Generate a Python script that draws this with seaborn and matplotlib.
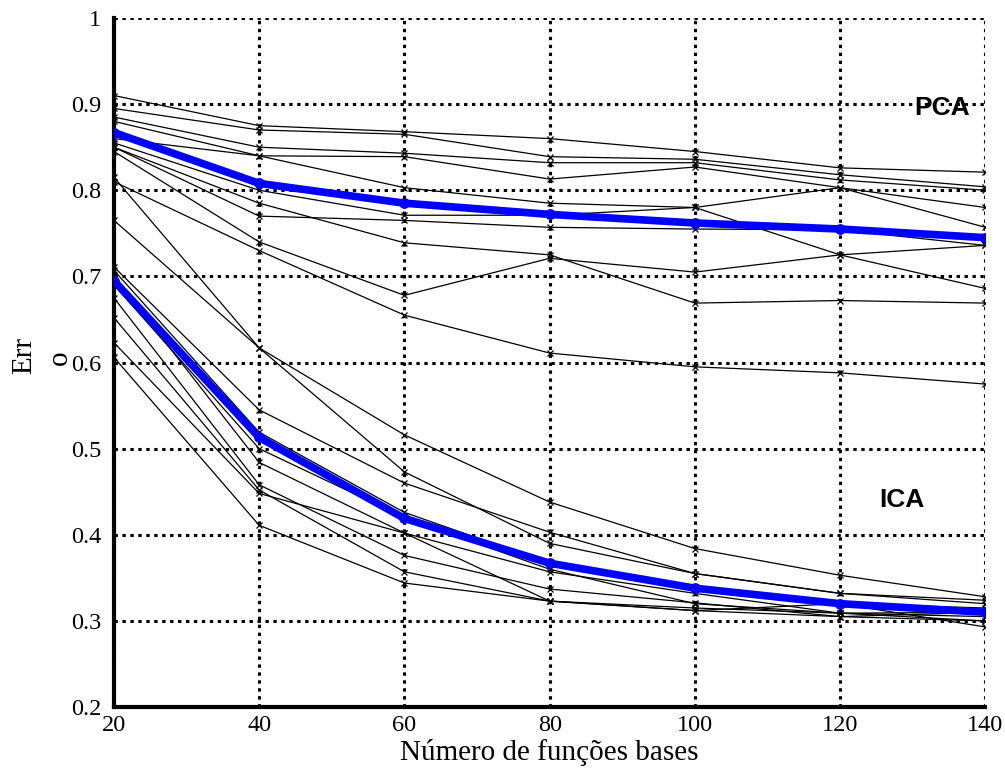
import matplotlib
matplotlib.use('Agg')
import matplotlib.pyplot as plt
import seaborn as sns
import pandas as pd

# number of basis functions
n_bases = [20, 40, 60, 80, 100, 120, 140]

# PCA runs
pca_runs = [
    [0.910, 0.875, 0.868, 0.860, 0.845, 0.826, 0.821],
    [0.895, 0.870, 0.865, 0.839, 0.836, 0.818, 0.804],
    [0.885, 0.850, 0.843, 0.832, 0.832, 0.812, 0.800],
    [0.880, 0.840, 0.839, 0.813, 0.827, 0.803, 0.757],
    [0.860, 0.840, 0.803, 0.785, 0.780, 0.803, 0.780],
    [0.855, 0.800, 0.771, 0.771, 0.780, 0.725, 0.686],
    [0.850, 0.770, 0.765, 0.757, 0.755, 0.754, 0.736],
    [0.845, 0.740, 0.678, 0.721, 0.705, 0.725, 0.736],
    [0.810, 0.730, 0.655, 0.611, 0.595, 0.588, 0.575],
    [0.850, 0.785, 0.739, 0.725, 0.669, 0.672, 0.669],
]
pca_mean = [0.867, 0.808, 0.785, 0.772, 0.762, 0.755, 0.745]

# ICA runs
ica_runs = [
    [0.815, 0.617, 0.516, 0.438, 0.384, 0.353, 0.328],
    [0.765, 0.617, 0.473, 0.390, 0.355, 0.332, 0.324],
    [0.711, 0.545, 0.460, 0.403, 0.355, 0.332, 0.320],
    [0.707, 0.519, 0.426, 0.367, 0.338, 0.320, 0.315],
    [0.700, 0.484, 0.402, 0.357, 0.332, 0.309, 0.310],
    [0.675, 0.458, 0.376, 0.337, 0.321, 0.305, 0.310],
    [0.652, 0.452, 0.357, 0.323, 0.315, 0.309, 0.305],
    [0.623, 0.448, 0.402, 0.323, 0.312, 0.320, 0.293],
    [0.606, 0.411, 0.344, 0.323, 0.312, 0.305, 0.300],
    [0.690, 0.500, 0.420, 0.360, 0.320, 0.309, 0.300],
]
ica_mean = [0.695, 0.513, 0.419, 0.367, 0.338, 0.320, 0.310]

y_ticks = [0.2, 0.3, 0.4, 0.5, 0.6, 0.7, 0.8, 0.9, 1]
y_tick_labels = ['0.2', '0.3', '0.4', '0.5', '0.6', '0.7', '0.8', '0.9', '1']

rows = []
for method, runs in (('PCA', pca_runs), ('ICA', ica_runs)):
    for i, run in enumerate(runs):
        for x, v in zip(n_bases, run):
            rows.append({'run': f'{method}{i}', 'n': x, 'err': v})
df_runs = pd.DataFrame(rows)

df_mean = pd.DataFrame({
    'n': n_bases * 2,
    'err': pca_mean + ica_mean,
    'method': ['PCA'] * len(n_bases) + ['ICA'] * len(n_bases),
})

sns.set_style('white')
plt.rcParams['font.family'] = ['Liberation Serif', 'DejaVu Serif']
plt.rcParams['text.color'] = 'black'
plt.rcParams['axes.labelcolor'] = 'black'
plt.rcParams['xtick.color'] = 'black'
plt.rcParams['ytick.color'] = 'black'

fig = plt.figure(figsize=(10.05, 7.83), dpi=100)
ax = fig.add_axes([0.1134, 0.097, 0.867, 0.88])

sns.lineplot(data=df_runs, x='n', y='err', units='run', estimator=None,
             color='black', linewidth=0.9, marker='x', markersize=5,
             markeredgecolor='black', markeredgewidth=0.9, ax=ax, legend=False)
sns.lineplot(data=df_mean, x='n', y='err', units='method', estimator=None,
             color='#0000ff', linewidth=5.5, marker='o', markersize=7,
             markeredgecolor='#0000ff', ax=ax, legend=False, zorder=5)

ax.set_xlim(20, 140)
ax.set_ylim(0.2, 1)
ax.set_xticks(n_bases)
ax.set_yticks(y_ticks)
ax.set_yticklabels(y_tick_labels)
ax.tick_params(axis='both', direction='in', length=4, width=1.5,
               labelsize=17.5, colors='black')
ax.tick_params(axis='y', pad=9)
ax.tick_params(axis='x', pad=6)
ax.grid(True, color='black', linestyle=(0, (1.1, 1.5)), linewidth=2.2)
ax.set_axisbelow(True)

for side in ('left', 'bottom'):
    ax.spines[side].set_linewidth(3)
    ax.spines[side].set_color('black')
for side in ('top', 'right'):
    ax.spines[side].set_visible(False)

ax.set_xlabel('Número de funções bases', fontsize=21, labelpad=2, color='black')
ax.set_ylabel('')
fig.text(24 / 1005, 1 - 356 / 783, 'Err', rotation=90, fontsize=21,
         ha='center', va='center', color='black')
fig.text(60 / 1005, 1 - 358 / 783, 'o', rotation=90, fontsize=21,
         ha='center', va='center', color='black')

ax.text(134, 0.895, 'PCA', fontsize=19, fontweight='bold', color='black',
        family=['Liberation Sans', 'DejaVu Sans'], ha='center', va='center')
ax.text(128.5, 0.44, 'ICA', fontsize=19, fontweight='bold', color='black',
        family=['Liberation Sans', 'DejaVu Sans'], ha='center', va='center')

fig.savefig('out.png', dpi=100, facecolor='white')
